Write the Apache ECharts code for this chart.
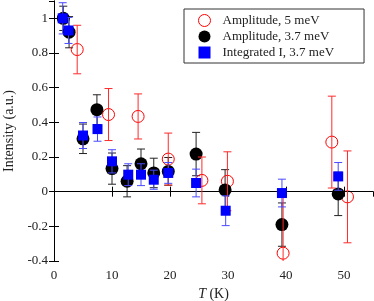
<!DOCTYPE html>
<html><head><meta charset="utf-8">
<script src="https://cdn.jsdelivr.net/npm/echarts@6/dist/echarts.min.js"></script>
<style>html,body{margin:0;padding:0;background:#fff}#c{width:374px;height:301px}</style>
</head><body><div id="c"></div>
<script>
// Amplitude, 5 meV
const T5 = [4.0, 9.4, 14.5, 19.7, 25.5, 29.9, 39.5, 47.9, 50.6];
const A5 = [0.82, 0.445, 0.434, 0.188, 0.065, 0.06, -0.355, 0.286, -0.03];
const E5 = [0.14, 0.15, 0.13, 0.15, 0.135, 0.17, 0.34, 0.265, 0.265];
// Amplitude, 3.7 meV
const T37 = [1.6, 2.6, 5.0, 7.4, 10.0, 12.6, 15.0, 17.2, 19.7, 24.5, 29.5, 39.3, 49.0];
const A37 = [1.0, 0.92, 0.305, 0.473, 0.133, 0.06, 0.161, 0.108, 0.117, 0.217, 0.01, -0.19, -0.013];
const E37 = [0.07, 0.09, 0.085, 0.086, 0.09, 0.09, 0.085, 0.085, 0.08, 0.125, 0.117, 0.125, 0.125];
// Integrated I, 3.7 meV
const TI = [1.5, 2.5, 5.0, 7.5, 10.0, 12.8, 15.0, 17.2, 19.7, 24.5, 29.6, 39.3, 49.0];
const I37 = [1.0, 0.93, 0.324, 0.361, 0.175, 0.098, 0.098, 0.069, 0.108, 0.05, -0.11, -0.008, 0.088];
const EI = [0.09, 0.075, 0.075, 0.07, 0.067, 0.063, 0.063, 0.055, 0.06, 0.08, 0.086, 0.08, 0.08];

const names = ['Amplitude, 5 meV', 'Amplitude, 3.7 meV', 'Integrated I, 3.7 meV'];
const FONT = '"Liberation Serif", "DejaVu Serif", serif';

function pts(t, v) { return t.map((x, i) => [x, v[i]]); }
function errs(t, v, e) { return t.map((x, i) => [x, v[i], e[i]]); }

function errRender(color, cap) {
  return function (params, api) {
    const x = api.value(0), y = api.value(1), e = api.value(2);
    const p1 = api.coord([x, y + e]);
    const p2 = api.coord([x, y - e]);
    const st = { stroke: color, lineWidth: 1 };
    return {
      type: 'group',
      children: [
        { type: 'line', shape: { x1: p1[0], y1: p1[1], x2: p2[0], y2: p2[1] }, style: st },
        { type: 'line', shape: { x1: p1[0] - cap, y1: p1[1], x2: p1[0] + cap, y2: p1[1] }, style: st },
        { type: 'line', shape: { x1: p2[0] - cap, y1: p2[1], x2: p2[0] + cap, y2: p2[1] }, style: st }
      ]
    };
  };
}

const axisCommonX = { type: 'value', min: 0, max: 55, interval: 10 };
const axisCommonY = { type: 'value', min: -0.4, max: 1.1, interval: 0.2 };
const lineSt = { show: true, lineStyle: { color: '#000', width: 1 } };
const tickSt = { show: true, inside: true, length: 5, lineStyle: { color: '#000' } };

const chart = echarts.init(document.getElementById('c'), null, { renderer: 'canvas' });
chart.setOption({
  animation: false,
  backgroundColor: '#fff',
  grid: { left: 54, right: 1, top: 1, bottom: 40, containLabel: false, outerBoundsMode: 'none' },
  xAxis: [
    Object.assign({}, axisCommonX, {
      position: 'bottom',
      axisLine: lineSt, axisTick: tickSt, splitLine: { show: false },
      axisLabel: { showMaxLabel: false, color: '#222', fontFamily: FONT, fontSize: 13, margin: 8 },
      name: '{i|T} (K)', nameLocation: 'middle', nameGap: 24,
      nameTextStyle: { fontFamily: FONT, fontSize: 14, color: '#222',
        rich: { i: { fontStyle: 'italic', fontFamily: FONT, fontSize: 14, color: '#222' } } }
    }),
    Object.assign({}, axisCommonX, {
      position: 'top', axisLine: lineSt, axisTick: tickSt, axisLabel: { show: false }, splitLine: { show: false }
    })
  ],
  yAxis: [
    Object.assign({}, axisCommonY, {
      position: 'left',
      axisLine: lineSt, axisTick: tickSt, splitLine: { show: false },
      axisLabel: { showMaxLabel: false, color: '#222', fontFamily: FONT, fontSize: 13, margin: 6,
        formatter: v => String(Math.round(v * 10) / 10) },
      name: 'Intensity (a.u.)', nameLocation: 'middle', nameGap: 34,
      nameTextStyle: { fontFamily: FONT, fontSize: 14, color: '#222' }
    }),
    Object.assign({}, axisCommonY, {
      position: 'right', axisLine: lineSt, axisTick: tickSt, axisLabel: { show: false }, splitLine: { show: false }
    })
  ],
  legend: {
    left: 184, top: 9,
    orient: 'vertical',
    backgroundColor: '#fff',
    borderColor: '#333', borderWidth: 1,
    padding: [5, 30, 4, 14],
    itemWidth: 12, itemHeight: 12, itemGap: 3,
    textStyle: { fontFamily: FONT, fontSize: 13, color: '#222', padding: [0, 0, 0, 7] },
    data: [
      { name: names[0], icon: 'circle', itemStyle: { color: '#fff', borderColor: '#ff0000', borderWidth: 1 } },
      { name: names[1], icon: 'circle', itemStyle: { color: '#000' } },
      { name: names[2], icon: 'rect', itemStyle: { color: '#0000ff' } }
    ]
  },
  series: [
    {
      type: 'custom', name: names[1] + ' err', renderItem: errRender('#222', 4), clip: true,
      data: errs(T37, A37, E37), z: 2, silent: true,
      markLine: { silent: true, symbol: 'none', label: { show: false },
        lineStyle: { color: '#000', width: 1, type: 'solid' }, data: [{ yAxis: 0 }] }
    },
    {
      type: 'scatter', name: names[0], data: pts(T5, A5), symbol: 'circle', symbolSize: 12, z: 3,
      itemStyle: { color: 'rgba(255,255,255,0)', borderColor: '#ff0000', borderWidth: 1, opacity: 1 }
    },
    {
      type: 'scatter', name: names[1], data: pts(T37, A37), symbol: 'circle', symbolSize: 13, z: 4,
      itemStyle: { color: '#000', opacity: 1 }
    },
    {
      type: 'custom', name: names[0] + ' err', renderItem: errRender('#ff2a2a', 4), clip: true,
      data: errs(T5, A5, E5), z: 5, silent: true
    },
    {
      type: 'custom', name: names[2] + ' err', renderItem: errRender('#4a4aff', 4), clip: true,
      data: errs(TI, I37, EI), z: 6, silent: true
    },
    {
      type: 'scatter', name: names[2], data: pts(TI, I37), symbol: 'rect', symbolSize: 10, z: 7,
      itemStyle: { color: '#0000ff', opacity: 1 }
    }
  ]
});
</script>
</body></html>
